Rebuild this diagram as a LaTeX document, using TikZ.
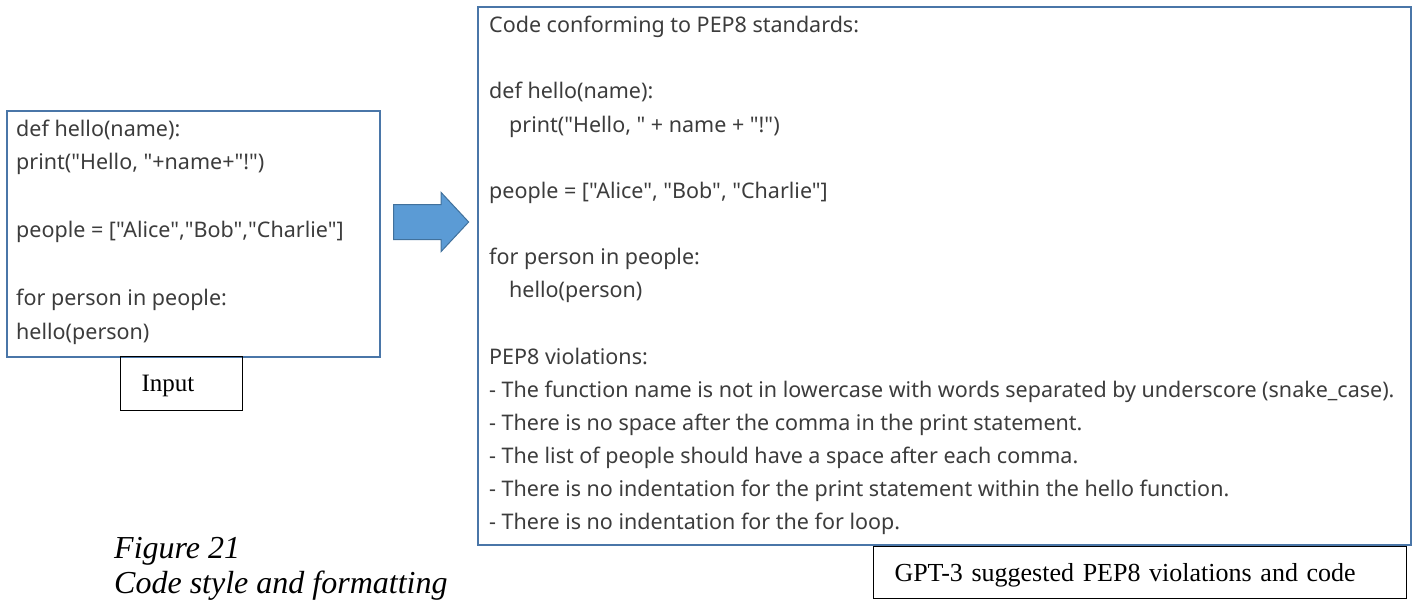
\documentclass[tikz,border=0pt]{standalone}
\usepackage{fontspec}
\setmainfont{Liberation Serif}
\newfontfamily\codefont{Noto Sans}
\usetikzlibrary{shapes.arrows}
\definecolor{frameblue}{HTML}{4A76A8}
\definecolor{arrowfill}{HTML}{5B9BD5}
\definecolor{arrowedge}{HTML}{41719C}
\definecolor{codegray}{HTML}{3C3C3C}
\begin{document}
\begin{tikzpicture}[x=1pt,y=-1pt,
  panel/.style={draw=frameblue,line width=2pt,inner sep=0pt,anchor=north west},
  code/.style={anchor=base west,inner sep=0pt,text=codegray,
    font=\codefont\fontsize{21.5}{26}\selectfont},
  tag/.style={draw=black,line width=1pt,anchor=north west,inner ysep=0pt,
    text depth=0pt,align=left},
  caption/.style={anchor=base west,inner sep=0pt,align=left,
    font=\itshape\fontsize{32}{35}\selectfont}]
\useasboundingbox (0,0) rectangle (1416,602);

% input panel
\node[panel,minimum width=373pt,minimum height=246pt] (inbox) at (6,110) {};
\node[code] (in1) at (16,136) {def hello(name):};
\node[code] (in2) at (16,169) {print("Hello, "+name+"!")};
\node[code] (in3) at (16,237) {people = ["Alice","Bob","Charlie"]};
\node[code] (in4) at (16,305) {for person in people:};
\node[code] (in5) at (16,339) {hello(person)};
\node[tag,minimum height=54pt,inner xsep=21pt,text width=80pt,
  font=\fontsize{25}{29}\selectfont] (intag) at (120,356) {Input};

% block arrow between the panels: 75 long, head 58 high, shaft 34 thick
\node[single arrow,draw=arrowedge,fill=arrowfill,line width=1pt,
  inner xsep=0pt,inner ysep=17pt,text height=0pt,text depth=0pt,
  minimum height=75pt,minimum width=58pt,single arrow head extend=12pt,
  single arrow tip angle=94] (flow) at (423,222) {};

% output panel
\node[panel,minimum width=933pt,minimum height=538pt] (outbox) at (477,6) {};
\node[code] (o1) at (489,33) {Code conforming to PEP8 standards:};
\node[code] (o2) at (489,99) {def hello(name):};
\node[code] (o3) at (509,132) {print("Hello, " + name + "!")};
\node[code] (o4) at (489,198) {people = ["Alice", "Bob", "Charlie"]};
\node[code] (o5) at (489,264) {for person in people:};
\node[code] (o6) at (509,297) {hello(person)};
\node[code] (v0) at (489,364) {PEP8 violations:};
\node[code] (v1) at (489,397) {- The function name is not in lowercase with words separated by underscore (snake\_case).};
\node[code] (v2) at (489,430) {- There is no space after the comma in the print statement.};
\node[code] (v3) at (489,463) {- The list of people should have a space after each comma.};
\node[code] (v4) at (489,496) {- There is no indentation for the print statement within the hello function.};
\node[code] (v5) at (489,529) {- There is no indentation for the for loop.};
\node[tag,minimum height=52pt,inner xsep=21pt,text width=491pt,
  font=\fontsize{26}{30}\selectfont] (outtag) at (873,546) {GPT-3 suggested PEP8 violations and code};

% figure caption
\node[caption] (cap) at (114,593) {Figure 21\\Code style and formatting};
\end{tikzpicture}
\end{document}
